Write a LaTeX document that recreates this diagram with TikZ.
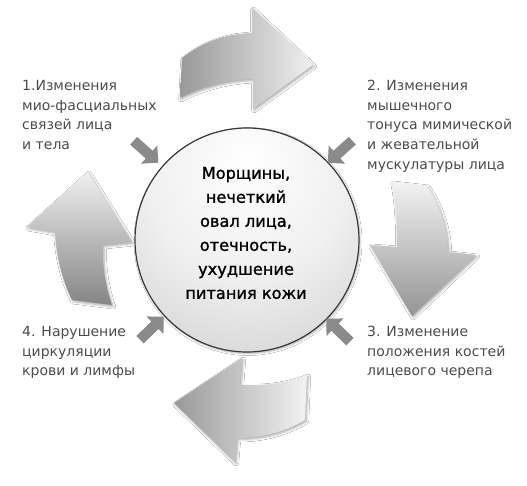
\documentclass[tikz,border=0pt]{standalone}
\usepackage{fontspec}
\setmainfont{DejaVu Sans}
\newfontfamily\cfont[FakeBold=1.3]{DejaVu Sans}
\usetikzlibrary{shapes.arrows,shadows.blur}
\pgfdeclareradialshading{ballshade}{\pgfpoint{0bp}{18bp}}{color(0bp)=(white); color(22bp)=(black!6); color(68bp)=(black!32); color(100bp)=(black!32)}
\tikzset{
  bigarrow/.style={draw=none, blur shadow={shadow xshift=1.2pt, shadow yshift=-1.5pt, shadow blur radius=2.5pt, shadow opacity=35}},
  smallarr/.style={single arrow, fill=black!46, draw=none, inner sep=5pt, minimum height=33pt, single arrow head extend=7pt},
  lbl/.style={anchor=north west, align=left, inner sep=0pt, text=black!70, font=\fontsize{14}{19.7}\selectfont},
  ctext/.style={align=center, inner sep=0pt, text=black, font=\cfont\fontsize{16.2}{24}\selectfont},
}
\begin{document}
\begin{tikzpicture}[x=1pt,y=-1pt]
\useasboundingbox[fill=white] (0,0) rectangle (527,486);
% big curved arrows
\path[bigarrow, left color=black!40, right color=black!6]
  (182,58) .. controls (205,40) and (228,34) .. (252,33) -- (252,8) -- (313,65) -- (253,109) -- (253,79)
  .. controls (228,80) and (203,86) .. (180,98) -- cycle;
\path[bigarrow, top color=black!5, bottom color=black!42]
  (392,182) -- (427,186) .. controls (440,205) and (448,230) .. (448,252) -- (476,255) -- (412,316) -- (370,245) -- (397,247)
  .. controls (397,225) and (396,200) .. (392,182) -- cycle;
\path[bigarrow, left color=black!40, right color=black!5]
  (307,375) .. controls (285,384) and (262,386) .. (240,385) -- (242,358) -- (174,403) -- (235,462) -- (237,438)
  .. controls (262,438) and (285,432) .. (305,420) -- cycle;
\path[bigarrow, top color=black!6, bottom color=black!48]
  (112,305) .. controls (105,285) and (102,265) .. (103,245) -- (132,242) -- (88,172) -- (27,227) -- (55,232)
  .. controls (56,255) and (62,280) .. (72,300) -- cycle;
% centre circle
\node[circle, minimum size=224pt, inner sep=0pt, draw=black!78, line width=1.2pt, shading=ballshade,
  blur shadow={shadow xshift=1pt, shadow yshift=-1.5pt, shadow blur radius=2pt, shadow opacity=30}] (c) at (247,240) {};
\node[ctext] (ct) at (246,233) {Морщины,\\нечеткий\\овал лица,\\отечность,\\ухудшение\\питания кожи};
% small arrows
\node[smallarr, rotate=-41.6] (s1) at (144,150) {};
\node[smallarr, rotate=-138] (s2) at (342,150) {};
\node[smallarr, rotate=44] (s3) at (150,330) {};
\node[smallarr, rotate=136] (s4) at (340,332) {};
% labels
\node[lbl] (l1) at (22,80) {1.Изменения\\мио-фасциальных\\связей лица\\и тела};
\node[lbl] (l2) at (367,80) {2. Изменения\\мышечного\\тонуса мимической\\и жевательной\\мускулатуры лица};
\node[lbl] (l3) at (367,326) {3. Изменение\\положения костей\\лицевого черепа};
\node[lbl] (l4) at (22,326) {4. Нарушение\\циркуляции\\крови и лимфы};
\end{tikzpicture}
\end{document}
